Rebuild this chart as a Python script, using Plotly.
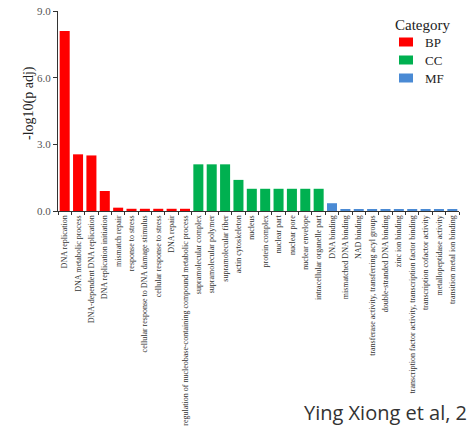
import plotly.graph_objects as go

# GO enrichment terms, grouped by ontology
bp_terms = [
    "DNA replication",
    "DNA metabolic process",
    "DNA-dependent DNA replication",
    "DNA replication initiation",
    "mismatch repair",
    "response to stress",
    "cellular response to DNA damage stimulus",
    "cellular response to stress",
    "DNA repair",
    "regulation of nucleobase-containing compound metabolic process",
]
bp_values = [8.1, 2.55, 2.5, 0.9, 0.15, 0.1, 0.1, 0.1, 0.1, 0.1]

cc_terms = [
    "supramolecular complex",
    "supramolecular polymer",
    "supramolecular fiber",
    "actin cytoskeleton",
    "nucleus",
    "protein complex",
    "nuclear part",
    "nuclear pore",
    "nuclear envelope",
    "intracellular organelle part",
]
cc_values = [2.1, 2.1, 2.1, 1.4, 1.0, 1.0, 1.0, 1.0, 1.0, 1.0]

mf_terms = [
    "DNA binding",
    "mismatched DNA binding",
    "NAD binding",
    "transferase activity, transferring acyl groups",
    "double-stranded DNA binding",
    "zinc ion binding",
    "transcription factor activity, transcription factor binding",
    "transcription cofactor activity",
    "metallopeptidase activity",
    "transition metal ion binding",
]
mf_values = [0.35, 0.08, 0.08, 0.08, 0.08, 0.08, 0.08, 0.08, 0.08, 0.08]

categories = ["BP", "CC", "MF"]
category_colors = ["#ff0000", "#00b050", "#4a8ad4"]

y_ticks = [0, 3, 6, 9]
y_tick_labels = ["0.0", "3.0", "6.0", "9.0"]

SERIF = "Liberation Serif, Times New Roman, serif"

W, H = 467, 426
ML, MR, MT, MB = 58, 8, 11, 215
PW, PH = W - ML - MR, H - MT - MB


def px_x(x):
    """Pixel column -> paper x."""
    return (x - ML) / PW


def px_y(y):
    """Pixel row -> paper y."""
    return (H - MB - y) / PH


fig = go.Figure()
for name, terms, vals, color in zip(categories, [bp_terms, cc_terms, mf_terms],
                                    [bp_values, cc_values, mf_values], category_colors):
    fig.add_trace(go.Bar(x=terms, y=vals, name=name, marker_color=color,
                         marker_line_width=0, showlegend=False))

shapes, annotations = [], []

# Category key in the upper right corner
annotations.append(dict(text="Category", xref="paper", yref="paper",
                        x=px_x(393), y=px_y(25), xanchor="left", yanchor="middle",
                        showarrow=False, font=dict(size=15, family=SERIF, color="#222")))
for i, (name, color) in enumerate(zip(categories, category_colors)):
    cy = 42 + 18 * i
    shapes.append(dict(type="rect", xref="paper", yref="paper",
                       x0=px_x(399), x1=px_x(413), y0=px_y(cy + 4.5), y1=px_y(cy - 4.5),
                       fillcolor=color, line=dict(width=0)))
    annotations.append(dict(text=name, xref="paper", yref="paper",
                            x=px_x(423), y=px_y(cy), xanchor="left", yanchor="middle",
                            showarrow=False, font=dict(size=13, family=SERIF, color="#222")))

# y-axis title
annotations.append(dict(text="-log10(p adj)", xref="paper", yref="paper",
                        x=px_x(29), y=px_y(103), xanchor="center", yanchor="middle",
                        textangle=-90, showarrow=False,
                        font=dict(size=14, family=SERIF, color="#222")))

# source credit
annotations.append(dict(text="Ying Xiong et al, 2019", xref="paper", yref="paper",
                        x=px_x(302), y=px_y(412), xanchor="left", yanchor="middle",
                        showarrow=False,
                        font=dict(size=20, family="Open Sans", color="#333")))

fig.update_layout(
    width=W, height=H,
    margin=dict(l=ML, r=MR, t=MT, b=MB, autoexpand=False),
    paper_bgcolor="white", plot_bgcolor="white",
    bargap=0.25,
    font=dict(family=SERIF, color="#222"),
    xaxis=dict(
        automargin=False,
        showline=True, linecolor="#333", linewidth=1.2,
        ticks="outside", tickson="boundaries", ticklen=3, tickcolor="#333",
        tickangle=-90, tickfont=dict(size=8, family=SERIF, color="#333"),
        showgrid=False,
    ),
    yaxis=dict(
        automargin=False,
        range=[0, 9], tickvals=y_ticks, ticktext=y_tick_labels,
        showline=True, linecolor="#333", linewidth=1.2,
        ticks="outside", ticklen=4, tickcolor="#333",
        tickfont=dict(size=11, family=SERIF, color="#555"),
        showgrid=False, zeroline=False,
    ),
    shapes=shapes,
    annotations=annotations,
)

fig.write_html("out.html")
